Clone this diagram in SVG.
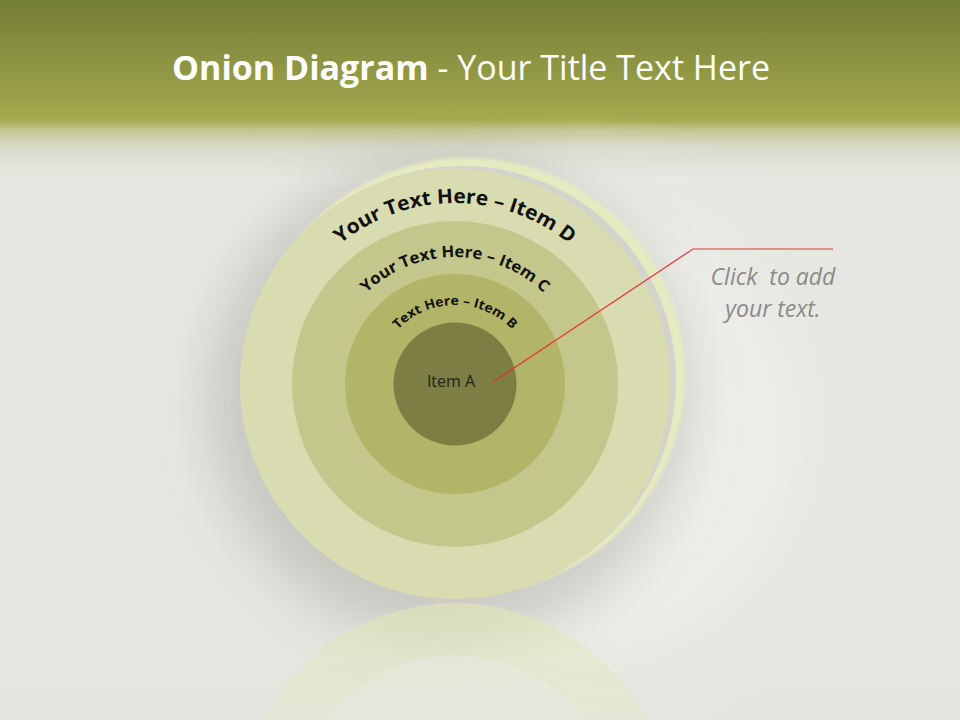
<svg xmlns="http://www.w3.org/2000/svg" width="960" height="720" viewBox="0 0 960 720">
  <defs>
    <linearGradient id="bgTop" x1="0" y1="0" x2="0" y2="720" gradientUnits="userSpaceOnUse">
      <stop offset="0" stop-color="#737c35"/>
      <stop offset="0.167" stop-color="#a5ab4f"/>
      <stop offset="0.18" stop-color="#c2c58e"/>
      <stop offset="0.205" stop-color="#dadbcb"/>
      <stop offset="0.25" stop-color="#e8e8e3"/>
      <stop offset="1" stop-color="#e5e5e0"/>
    </linearGradient>
    <radialGradient id="bgGlow" cx="580" cy="440" r="330" gradientUnits="userSpaceOnUse">
      <stop offset="0" stop-color="#f4f4f0" stop-opacity="0.9"/>
      <stop offset="0.6" stop-color="#f1f1ed" stop-opacity="0.5"/>
      <stop offset="1" stop-color="#e4e4df" stop-opacity="0"/>
    </radialGradient>
    <filter id="blurBig" x="-50%" y="-50%" width="200%" height="200%">
      <feGaussianBlur stdDeviation="26"/>
    </filter>
    <filter id="blurSm" x="-10%" y="-10%" width="120%" height="120%">
      <feGaussianBlur stdDeviation="1.5"/>
    </filter>
    <linearGradient id="reflFade" x1="0" y1="600" x2="0" y2="720" gradientUnits="userSpaceOnUse">
      <stop offset="0" stop-color="#fff" stop-opacity="0.6"/>
      <stop offset="1" stop-color="#fff" stop-opacity="0.25"/>
    </linearGradient>
    <mask id="reflMask" maskUnits="userSpaceOnUse" x="0" y="600" width="960" height="120">
      <rect x="0" y="600" width="960" height="120" fill="url(#reflFade)"/>
    </mask>
    <path id="arcD" d="M 274,384 A 181 181 0 0 1 636,384"/>
    <path id="arcC" d="M 328,384 A 127 127 0 0 1 582,384"/>
    <path id="arcB" d="M 376,384 A 79 79 0 0 1 534,384"/>
    <style>
      .arc { font-family: "Open Sans", "Noto Sans", sans-serif; font-weight: bold; fill: #111; }
      .ring-d { fill: #d9dcb0; }
      .ring-c { fill: #c3c78b; }
      .ring-b { fill: #b2b567; }
      .ring-a { fill: #7c7e44; }
      .title { font-family: "Open Sans", "Noto Sans", sans-serif; fill: #ffffff; font-size: 34px; }
      .note { font-family: "Open Sans", "Noto Sans", sans-serif; font-style: italic; fill: #8a8a8a; font-size: 23px; }
    </style>
  </defs>

  <!-- background -->
  <rect x="0" y="0" width="960" height="720" fill="url(#bgTop)"/>
  <rect x="0" y="0" width="960" height="720" fill="url(#bgGlow)"/>

  <!-- soft shadow -->
  <circle cx="450" cy="398" r="240" fill="#8e8e86" opacity="0.34" filter="url(#blurBig)"/>

  <!-- reflection -->
  <g mask="url(#reflMask)">
    <g transform="translate(0,1202) scale(1,-1)">
      <circle cx="455" cy="384" r="215" fill="#e3e7b6"/>
      <circle cx="455" cy="384" r="163" fill="#eaedd0"/>
      <circle cx="455" cy="384" r="110" fill="#eef0dc"/>
    </g>
  </g>

  <title>Onion Diagram - Your Title Text Here</title>
  <text x="471" y="80" text-anchor="middle" class="title"><tspan font-weight="bold">Onion Diagram</tspan> - Your Title Text Here</text>

  <!-- back rim of outer disc -->
  <circle cx="467" cy="376" r="218" fill="#e6eac0" filter="url(#blurSm)"/>
  <circle cx="462" cy="380" r="214" fill="#d3d4cb"/>

  <g id="node-D">
    <circle class="ring-d" cx="455" cy="384" r="215"/>
    <text class="arc" font-size="20" textLength="248" lengthAdjust="spacingAndGlyphs"><textPath href="#arcD" startOffset="50%" text-anchor="middle">Your Text Here – Item D</textPath></text>
  </g>
  <g id="node-C">
    <circle class="ring-c" cx="455" cy="384" r="163"/>
    <text class="arc" font-size="16" textLength="196" lengthAdjust="spacingAndGlyphs"><textPath href="#arcC" startOffset="50%" text-anchor="middle">Your Text Here – Item C</textPath></text>
  </g>
  <g id="node-B">
    <circle class="ring-b" cx="455" cy="384" r="110"/>
    <text class="arc" font-size="13" textLength="128" lengthAdjust="spacingAndGlyphs"><textPath href="#arcB" startOffset="50%" text-anchor="middle">Text Here – Item B</textPath></text>
  </g>
  <g id="node-A">
    <circle class="ring-a" cx="455" cy="384" r="61.5"/>
    <text x="451" y="387" text-anchor="middle" font-family="Open Sans, Noto Sans, sans-serif" font-size="16" fill="#222">Item A</text>
  </g>

  <g id="connectors">
    <polyline points="493,382 693,249 833,249" fill="none" stroke="#e0343a" stroke-width="1.2"/>
  </g>

  <g id="callout">
    <text x="773" y="285" text-anchor="middle" class="note" xml:space="preserve">Click  to add</text>
    <text x="773" y="317" text-anchor="middle" class="note">your text.</text>
  </g>
</svg>
